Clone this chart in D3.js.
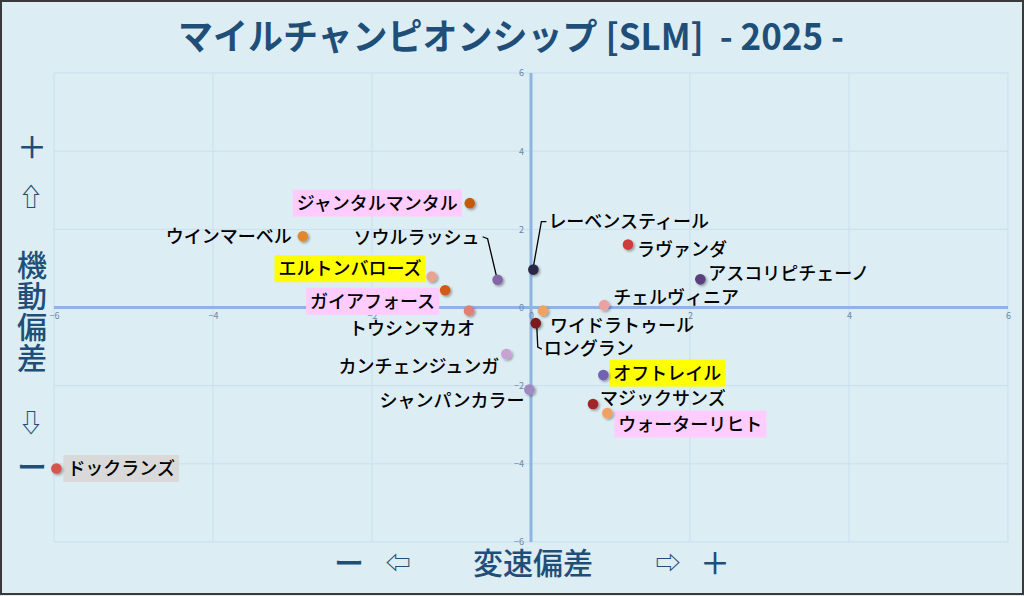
<!DOCTYPE html>
<html><head><meta charset="utf-8">
<script src="https://cdn.jsdelivr.net/npm/d3@7/dist/d3.min.js"></script>
<style>
html,body{margin:0;padding:0;background:#dcedf3;}
svg{display:block;}
text{font-family:"Noto Sans CJK JP","Noto Sans",sans-serif;}
</style></head>
<body>
<svg id="c" width="1024" height="596"></svg>
<script>
// ---- data ----
const horses = ["ジャンタルマンタル","ウインマーベル","ソウルラッシュ","エルトンバローズ","ガイアフォース","トウシンマカオ","レーベンスティール","ラヴァンダ","アスコリピチェーノ","チェルヴィニア","ワイドラトゥール","ロングラン","カンチェンジュンガ","シャンパンカラー","オフトレイル","マジックサンズ","ウォーターリヒト","ドックランズ"];
const speedDev  = [-0.77,-2.87,-0.42,-1.25,-1.08,-0.78,0.03,1.22,2.13,0.92,0.15,0.06,-0.31,-0.02,0.91,0.78,0.96,-5.97];
const mobileDev = [2.67,1.82,0.71,0.79,0.44,-0.08,0.97,1.61,0.72,0.06,-0.08,-0.40,-1.19,-2.10,-1.73,-2.47,-2.70,-4.12];
const highlight = ["pink","","","yellow","pink","","","","","","","","","","yellow","","pink","gray"];
const dotColors = ["#c55a11","#e0882c","#8466a8","#e8a48e","#d05a14","#df7f76","#2c2848","#d03a3a","#5a3f7c","#eaa2a0","#f0a262","#7a1a1a","#c9a2d2","#a08ac2","#7262b2","#a32828","#f0a262","#d9534f"];
const xTicks = [-6,-4,-2,0,2,4,6];
const yTicks = [-6,-4,-2,0,2,4,6];
const titleText = "マイルチャンピオンシップ [SLM]  - 2025 -";

// ---- label layout (anchor, offset from dot in px, leader) ----
const labelLayout = [
 {a:"end",dx:-12,dy:0},{a:"end",dx:-11,dy:0},{a:"end",dx:-18,dy:-42,leader:"soul"},
 {a:"end",dx:-10,dy:-8},{a:"end",dx:-10,dy:11},{a:"end",dx:6,dy:18},
 {a:"start",dx:15,dy:-48,leader:"leben"},{a:"start",dx:9,dy:5},{a:"start",dx:8,dy:-6},
 {a:"start",dx:9,dy:-8},{a:"start",dx:7,dy:15},{a:"start",dx:8,dy:25,leader:"long"},
 {a:"end",dx:-7,dy:13},{a:"end",dx:-5,dy:11},{a:"start",dx:10,dy:-2},
 {a:"start",dx:7,dy:-6},{a:"start",dx:11,dy:11},{a:"start",dx:11,dy:0}
];
const boxFill = {pink:"#ffccff",yellow:"#ffff00",gray:"#d9d9d9"};

const svg = d3.select("#c");
const W=1024,H=596;
const plot={l:54,r:1008,t:73,b:542};
const x=d3.scaleLinear().domain([-6,6]).range([plot.l,plot.r]);
const y=d3.scaleLinear().domain([-6,6]).range([plot.b,plot.t]);

// background & frame
svg.append("rect").attr("x",0).attr("y",0).attr("width",W).attr("height",H).attr("fill","#dcedf3");
svg.append("rect").attr("x",1).attr("y",1).attr("width",W-2).attr("height",H-3).attr("fill","none").attr("stroke","#3a3a3a").attr("stroke-width",2);

const defs=svg.append("defs");
const f=defs.append("filter").attr("id","sh").attr("x","-50%").attr("y","-50%").attr("width","200%").attr("height","200%");
f.append("feDropShadow").attr("dx",1.5).attr("dy",1.5).attr("stdDeviation",1.2).attr("flood-color","#000").attr("flood-opacity",0.35);

// gridlines
const g=svg.append("g");
g.selectAll("line.vx").data(xTicks).join("line").attr("x1",d=>x(d)).attr("x2",d=>x(d)).attr("y1",plot.t).attr("y2",plot.b).attr("stroke","#c9dff0").attr("stroke-width",1);
g.selectAll("line.hy").data(yTicks).join("line").attr("y1",d=>y(d)).attr("y2",d=>y(d)).attr("x1",plot.l).attr("x2",plot.r).attr("stroke","#c9dff0").attr("stroke-width",1);

// axes through zero
g.append("line").attr("x1",plot.l).attr("x2",plot.r).attr("y1",y(0)).attr("y2",y(0)).attr("stroke","#8db4e3").attr("stroke-width",3);
g.append("line").attr("x1",x(0)).attr("x2",x(0)).attr("y1",plot.t).attr("y2",plot.b).attr("stroke","#8db4e3").attr("stroke-width",3);

// tick labels using d3 axes
const xa=svg.append("g").attr("transform",`translate(0,${y(0)+3})`).call(d3.axisBottom(x).tickValues(xTicks).tickSize(0).tickPadding(2));
const ya=svg.append("g").attr("transform",`translate(${x(0)-7},0)`).call(d3.axisLeft(y).tickValues(yTicks).tickSize(0).tickPadding(0));
[xa,ya].forEach(a=>{a.select(".domain").remove();a.selectAll("text").attr("fill","#6a88a8").attr("font-size",9).attr("font-family","Liberation Sans, Arial, sans-serif");});
ya.selectAll("text").attr("dy","0.32em");

// title
svg.append("text").attr("x",511).attr("y",50).attr("text-anchor","middle").attr("font-size",36).attr("font-weight",700)
 .style("white-space","pre").attr("xml:space","preserve")
 .attr("fill","#1f4e79").attr("textLength",666).attr("lengthAdjust","spacingAndGlyphs").text(titleText);

// axis titles
const axCol="#1f4e79";
const leftG=svg.append("g").attr("fill",axCol).attr("font-size",30).attr("font-weight",500).attr("text-anchor","middle");
leftG.append("text").attr("x",32).attr("y",158).text("＋");
leftG.append("text").attr("x",31).attr("y",206).attr("font-size",25).text("⇧");
["機","動","偏","差"].forEach((c,i)=>leftG.append("text").attr("x",32).attr("y",276+i*31).text(c));
leftG.append("text").attr("x",31).attr("y",432).attr("font-size",25).text("⇩");
leftG.append("text").attr("x",32).attr("y",478).text("ー");
const botG=svg.append("g").attr("fill",axCol).attr("font-size",30).attr("font-weight",500).attr("text-anchor","middle");
botG.append("text").attr("x",349).attr("y",574).text("ー");
botG.append("text").attr("x",398).attr("y",572).attr("font-size",25).text("⇦");
botG.append("text").attr("x",533).attr("y",574).text("変速偏差");
botG.append("text").attr("x",668).attr("y",572).attr("font-size",25).text("⇨");
botG.append("text").attr("x",715).attr("y",574).text("＋");

// data
const pts=horses.map((n,i)=>({name:n,sx:speedDev[i],my:mobileDev[i],hl:highlight[i],col:dotColors[i],lay:labelLayout[i]}));

// labels
const lg=svg.append("g");
pts.forEach(p=>{
  const px=x(p.sx),py=y(p.my),L=p.lay;
  const tx=px+L.dx, ty=py+L.dy;
  const grp=lg.append("g");
  const t=grp.append("text").attr("x",tx).attr("y",ty).attr("dy","0.36em").attr("text-anchor",L.a)
    .attr("font-size",18).attr("font-weight",500).attr("fill","#000").text(p.name);
  const w=t.node().getComputedTextLength();
  const x0=L.a==="end"?tx-w:tx;
  if(p.hl){
    grp.insert("rect","text").attr("x",x0-4).attr("y",ty-13.5).attr("width",w+8).attr("height",27).attr("fill",boxFill[p.hl]);
  }
  let path=null;
  if(L.leader==="soul") path=[[tx+3,ty-1],[tx+8,ty+1],[px-1,py-3]];
  if(L.leader==="leben") path=[[tx-2,ty],[tx-7,ty],[px,py-3]];
  if(L.leader==="long") path=[[px+1,py+3],[px+2,ty-1],[tx-2,ty+1]];
  if(path) lg.append("path").attr("d",d3.line()(path)).attr("fill","none").attr("stroke","#000").attr("stroke-width",1.3);
});

// dots
svg.append("g").selectAll("circle").data(pts).join("circle")
 .attr("cx",d=>x(d.sx)).attr("cy",d=>y(d.my)).attr("r",5.3).attr("fill",d=>d.col).attr("filter","url(#sh)");
</script>
</body></html>
